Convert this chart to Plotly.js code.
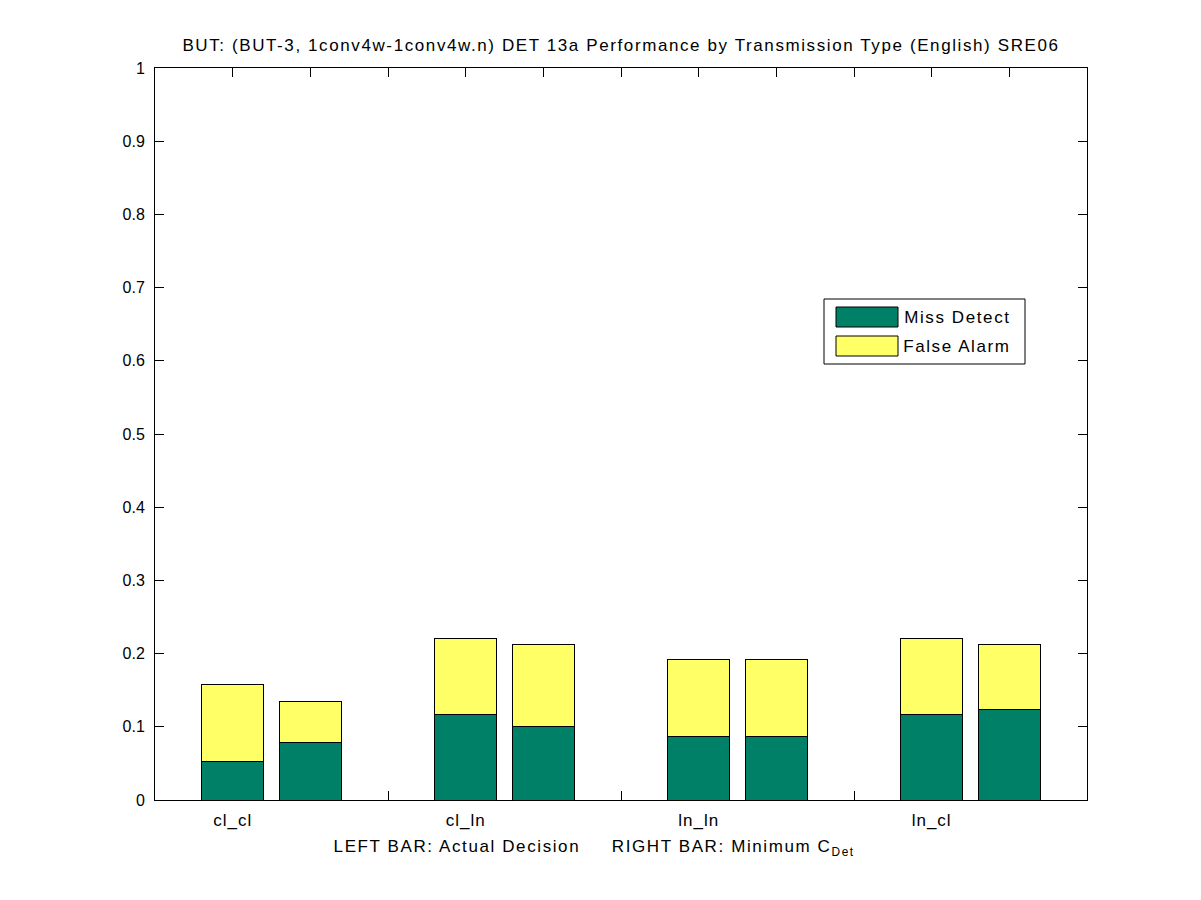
<!DOCTYPE html>
<html>
<head>
<meta charset="utf-8">
<script src="https://cdn.plot.ly/plotly-3.0.1.min.js"></script>
<style>
html,body{margin:0;padding:0;background:#fff;}
#chart{width:1201px;height:900px;}
#chart .gtitle, #chart .annotation-text {letter-spacing:1.6px;}
#chart .xtick text {letter-spacing:1px;}
</style>
</head>
<body>
<div id="chart"></div>
<script>
// Data
const categories = ['cl_cl', 'cl_ln', 'ln_ln', 'ln_cl'];
const missActual = [0.053, 0.1167, 0.0868, 0.1167];
const faActual   = [0.1044, 0.1045, 0.1045, 0.1045];
const missMin    = [0.0787, 0.1004, 0.0868, 0.1239];
const faMin      = [0.0556, 0.1126, 0.1045, 0.0891];
const seriesNames = ['Miss Detect', 'False Alarm'];

const GREEN = '#008066', YELLOW = '#ffff66';
const xLeft = categories.map((c, i) => 3 * i + 1);
const xRight = categories.map((c, i) => 3 * i + 2);

function bar(x, y, color, name) {
  return {type: 'bar', x: x, y: y, width: 0.8, name: name, showlegend: false,
    marker: {color: color, line: {color: '#000', width: 1}}, hoverinfo: 'y'};
}
const traces = [
  bar(xLeft, missActual, GREEN, seriesNames[0]),
  bar(xLeft, faActual, YELLOW, seriesNames[1]),
  bar(xRight, missMin, GREEN, seriesNames[0]),
  bar(xRight, faMin, YELLOW, seriesNames[1])
];

const tickvals = [], ticktext = [];
for (let v = 1; v <= 11; v++) {
  tickvals.push(v);
  const k = (v - 1) / 3;
  ticktext.push(Number.isInteger(k) ? categories[k] : '');
}

const W = 932, H = 732, L = 155, T = 68;
const px = x => (x - L) / W;
const py = y => (T + H - y) / H;

const FAM = 'Liberation Sans, Arial, Helvetica, sans-serif';
const font = {family: FAM, size: 17, color: '#000'};
const yfont = {family: FAM, size: 16, color: '#000'};

const layout = {
  width: 1201, height: 900,
  margin: {l: 155, r: 114, t: 68, b: 100},
  paper_bgcolor: '#fff', plot_bgcolor: '#fff',
  barmode: 'stack',
  font: font,
  showlegend: false,
  title: {text: 'BUT: (BUT-3, 1conv4w-1conv4w.n) DET 13a Performance by Transmission Type (English) SRE06',
    font: font, xref: 'paper', x: 0.5, xanchor: 'center', y: 1 - 45 / 900, yanchor: 'middle'},
  xaxis: {range: [0, 12], tickvals: tickvals, ticktext: ticktext, ticks: 'inside', ticklen: 9,
    tickcolor: '#000', showline: true, linecolor: '#000', linewidth: 1, mirror: 'ticks',
    showgrid: false, zeroline: false, layer: 'below traces', tickfont: font, ticklabelstandoff: 5, fixedrange: true},
  yaxis: {range: [0, 1], dtick: 0.1, tick0: 0, ticks: 'inside', ticklen: 9,
    tickcolor: '#000', showline: true, linecolor: '#000', linewidth: 1, mirror: 'ticks',
    showgrid: false, zeroline: false, tickfont: yfont, ticklabelstandoff: 6, fixedrange: true},
  shapes: [
    {type: 'rect', xref: 'paper', yref: 'paper', x0: px(824), x1: px(1025), y0: py(364), y1: py(299),
      line: {color: '#000', width: 1}, fillcolor: '#fff'},
    {type: 'rect', xref: 'paper', yref: 'paper', x0: px(836), x1: px(898), y0: py(327), y1: py(307),
      line: {color: '#000', width: 1}, fillcolor: GREEN},
    {type: 'rect', xref: 'paper', yref: 'paper', x0: px(836), x1: px(898), y0: py(356), y1: py(336),
      line: {color: '#000', width: 1}, fillcolor: YELLOW}
  ],
  annotations: [
    {xref: 'paper', yref: 'paper', x: px(957), y: py(317), xanchor: 'center', yanchor: 'middle',
      text: seriesNames[0], showarrow: false, font: font},
    {xref: 'paper', yref: 'paper', x: px(957), y: py(346), xanchor: 'center', yanchor: 'middle',
      text: seriesNames[1], showarrow: false, font: font},
    {xref: 'paper', yref: 'paper', x: px(594), y: py(848), xanchor: 'center', yanchor: 'middle',
      text: 'LEFT BAR: Actual Decision     RIGHT BAR: Minimum C<sub>Det</sub>', showarrow: false, font: font}
  ]
};

Plotly.newPlot('chart', traces, layout, {displayModeBar: false, staticPlot: true});
</script>
</body>
</html>
